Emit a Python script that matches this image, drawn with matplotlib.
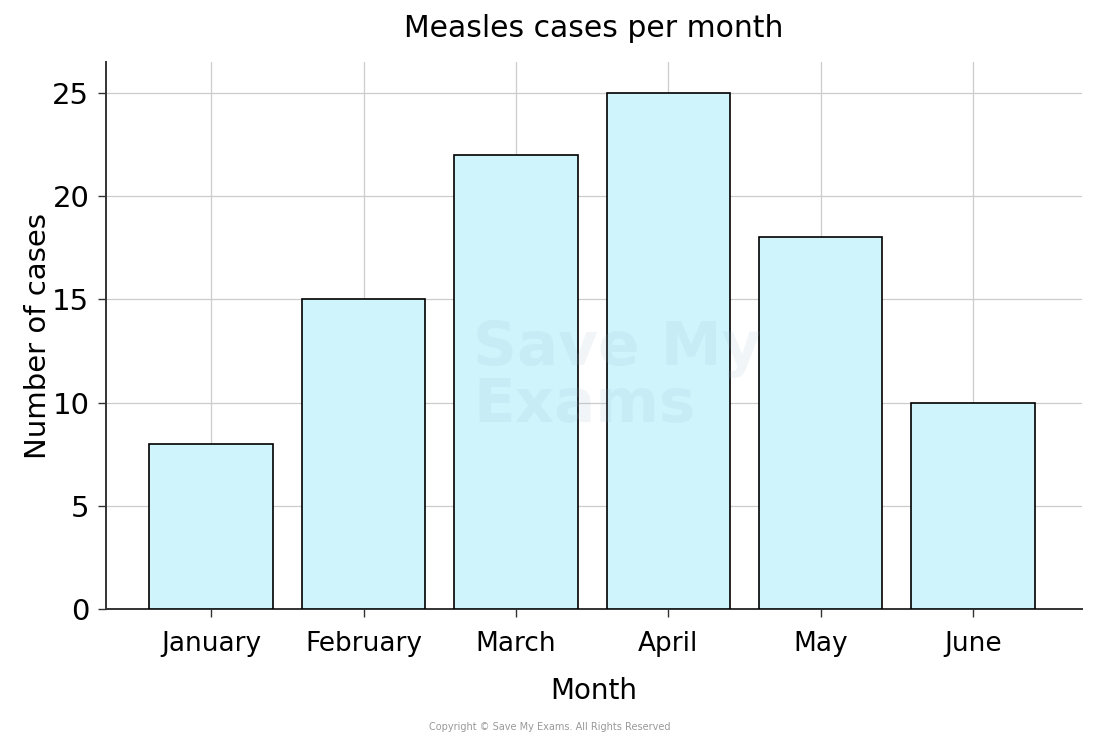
import matplotlib
matplotlib.use("Agg")
import matplotlib.pyplot as plt

months = ["January", "February", "March", "April", "May", "June"]
cases = [8, 15, 22, 25, 18, 10]
yticks = [0, 5, 10, 15, 20, 25]

plt.rcParams['font.family'] = ['DejaVu Sans']

fig = plt.figure(figsize=(11, 7.39), dpi=100)
ax = fig.add_axes([0.0964, 0.1759, 0.8872, 0.7402])

x = range(len(months))
ax.bar(x, cases, width=0.81, color="#cff4fc", edgecolor="black", linewidth=1.2, zorder=3)

ax.set_xlim(-0.69, 5.715)
ax.set_ylim(0, 26.5)
ax.set_xticks(list(x))
ax.set_xticklabels(months, fontsize=19)
ax.set_yticks(yticks)
ax.set_yticklabels([str(v) for v in yticks], fontsize=21)
ax.tick_params(axis="both", length=6, width=1, color="#333333")
ax.tick_params(axis="x", pad=10)
ax.tick_params(axis="y", pad=6)

ax.grid(True, color="#cccccc", linewidth=0.9, zorder=0)
ax.set_axisbelow(True)
for side in ["top", "right"]:
    ax.spines[side].set_visible(False)
for side in ["left", "bottom"]:
    ax.spines[side].set_color("#333333")
    ax.spines[side].set_linewidth(1.4)

ax.set_title("Measles cases per month", fontsize=21.5, pad=18)
ax.set_xlabel("Month", fontsize=20, labelpad=14)
ax.set_ylabel("Number of cases", fontsize=21, labelpad=0)

# faint watermark
fig.text(0.43, 0.49, "Save My\nExams", fontsize=44, fontweight="bold", color="#9ab4c4",
         alpha=0.12, ha="left", va="center", linespacing=0.95, zorder=5)
fig.text(0.5, 0.016, "Copyright © Save My Exams. All Rights Reserved",
         fontsize=7, color="#999999", ha="center", va="center")

fig.savefig("out.png", dpi=100)
